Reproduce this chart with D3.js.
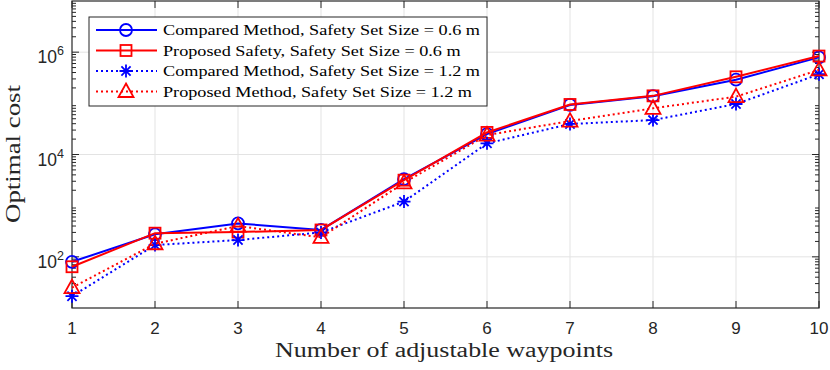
<!DOCTYPE html>
<html>
<head>
<meta charset="utf-8">
<script src="https://cdn.jsdelivr.net/npm/d3@7"></script>
<style>
  body { margin: 0; background: #fff; }
  svg { display: block; }
</style>
</head>
<body>
<div id="chart"></div>
<script>
// chart size
let w = 830;
let h = 370;

// data
let waypoints = [1, 2, 3, 4, 5, 6, 7, 8, 9, 10];
let comparedSmall = [80, 275, 450, 335, 3300, 25000, 93000, 138000, 290000, 790000];
let proposedSmall = [64, 290, 305, 335, 3150, 27000, 95000, 140000, 330000, 840000];
let comparedLarge = [17, 170, 213, 300, 1200, 16500, 39500, 47000, 97000, 370000];
let proposedLarge = [25, 180, 400, 240, 2800, 24000, 45000, 80000, 135000, 450000];
let yTicks = [1e2, 1e4, 1e6];
let seriesNames = [
  "Compared Method, Safety Set Size = 0.6 m",
  "Proposed Safety, Safety Set Size = 0.6 m",
  "Compared Method, Safety Set Size = 1.2 m",
  "Proposed Method, Safety Set Size = 1.2 m"
];

let series = [
  { name: seriesNames[0], values: comparedSmall, color: "#0000ff", dash: null, marker: "circle" },
  { name: seriesNames[1], values: proposedSmall, color: "#ff0000", dash: null, marker: "square" },
  { name: seriesNames[2], values: comparedLarge, color: "#0000ff", dash: "2,3", marker: "star" },
  { name: seriesNames[3], values: proposedLarge, color: "#ff0000", dash: "2,3", marker: "triangle" }
];

// plot box
let m = { left: 72, right: 819, top: 1, bottom: 308 };

let x = d3.scaleLinear().domain([1, 10]).range([m.left, m.right]);
let y = d3.scaleLog().domain([10, 1e7]).range([m.bottom, m.top]);

let svg = d3.select("#chart").append("svg")
  .attr("width", w)
  .attr("height", h);

let axisColor = "#262626";
let gridColor = "#e3e3e3";

// stretch serif text so Liberation Serif takes the width of the LaTeX font
function stretchTo(sel, width) {
  sel.attr("textLength", width).attr("lengthAdjust", "spacingAndGlyphs");
}

// grid lines
let grid = svg.append("g");
grid.selectAll(".gx")
  .data(waypoints.slice(1, -1))
  .enter().append("line")
    .attr("x1", d => x(d)).attr("x2", d => x(d))
    .attr("y1", m.top).attr("y2", m.bottom)
    .attr("stroke", gridColor).attr("stroke-width", 1);
grid.selectAll(".gy")
  .data(yTicks)
  .enter().append("line")
    .attr("x1", m.left).attr("x2", m.right)
    .attr("y1", d => y(d)).attr("y2", d => y(d))
    .attr("stroke", gridColor).attr("stroke-width", 1);

// ticks (inward, on all four sides like MATLAB box on)
let ticks = svg.append("g").attr("stroke", axisColor).attr("stroke-width", 1);
waypoints.forEach(function(d) {
  ticks.append("line").attr("x1", x(d)).attr("x2", x(d)).attr("y1", m.bottom).attr("y2", m.bottom - 7);
  ticks.append("line").attr("x1", x(d)).attr("x2", x(d)).attr("y1", m.top).attr("y2", m.top + 7);
});
let minor = [];
for (let e = 1; e < 7; e++) {
  for (let k = 2; k <= 9; k++) minor.push(k * Math.pow(10, e));
}
minor.forEach(function(d) {
  ticks.append("line").attr("x1", m.left).attr("x2", m.left + 4).attr("y1", y(d)).attr("y2", y(d));
  ticks.append("line").attr("x1", m.right).attr("x2", m.right - 4).attr("y1", y(d)).attr("y2", y(d));
});
yTicks.forEach(function(d) {
  ticks.append("line").attr("x1", m.left).attr("x2", m.left + 7).attr("y1", y(d)).attr("y2", y(d));
  ticks.append("line").attr("x1", m.right).attr("x2", m.right - 7).attr("y1", y(d)).attr("y2", y(d));
});

// box
svg.append("rect")
  .attr("x", m.left).attr("y", m.top)
  .attr("width", m.right - m.left).attr("height", m.bottom - m.top)
  .attr("fill", "none").attr("stroke", axisColor).attr("stroke-width", 1.2);

// tick labels
let tickFont = "'Liberation Sans', Arial, sans-serif";
svg.append("g").selectAll("text")
  .data(waypoints)
  .enter().append("text")
    .attr("x", d => x(d))
    .attr("y", 334)
    .attr("text-anchor", "middle")
    .attr("font-family", tickFont)
    .attr("font-size", 17)
    .attr("fill", axisColor)
    .text(d => d);

let yl = svg.append("g").selectAll("text")
  .data(yTicks)
  .enter().append("text")
    .attr("x", 64)
    .attr("y", d => y(d) + 11)
    .attr("text-anchor", "end")
    .attr("font-family", tickFont)
    .attr("font-size", 17.5)
    .attr("fill", axisColor);
yl.append("tspan").text("10");
yl.append("tspan")
  .attr("dy", -8)
  .attr("font-size", 12.5)
  .text(d => Math.round(Math.log10(d)));

// axis labels
let labelFont = "'Liberation Serif', 'DejaVu Serif', serif";
svg.append("text")
  .attr("x", 444)
  .attr("y", 357)
  .attr("text-anchor", "middle")
  .attr("font-family", labelFont)
  .attr("font-size", 20)
  .attr("fill", axisColor)
  .text("Number of adjustable waypoints")
  .call(stretchTo, 338);

svg.append("text")
  .attr("transform", "translate(20,154) rotate(-90)")
  .attr("text-anchor", "middle")
  .attr("font-family", labelFont)
  .attr("font-size", 21)
  .attr("fill", axisColor)
  .text("Optimal cost")
  .call(stretchTo, 138);

// marker drawing
function drawMarker(g, type, color) {
  if (type == "circle") {
    g.append("circle").attr("r", 6).attr("fill", "none").attr("stroke", color).attr("stroke-width", 1.8);
  } else if (type == "square") {
    g.append("rect").attr("x", -5.5).attr("y", -5.5).attr("width", 11).attr("height", 11)
      .attr("fill", "none").attr("stroke", color).attr("stroke-width", 1.8);
  } else if (type == "triangle") {
    g.append("path").attr("d", "M0,-8 L7.5,5.5 L-7.5,5.5 Z")
      .attr("fill", "none").attr("stroke", color).attr("stroke-width", 1.8);
  } else if (type == "star") {
    g.append("path")
      .attr("d", "M0,-6.5 L0,6.5 M-6.5,0 L6.5,0 M-4.6,-4.6 L4.6,4.6 M-4.6,4.6 L4.6,-4.6")
      .attr("fill", "none").attr("stroke", color).attr("stroke-width", 1.8);
  }
}

// lines and markers
let line = d3.line()
  .x((d, i) => x(waypoints[i]))
  .y(d => y(d));

let plotG = svg.append("g");
series.forEach(function(s) {
  let g = plotG.append("g");
  g.append("path")
    .attr("d", line(s.values))
    .attr("fill", "none")
    .attr("stroke", s.color)
    .attr("stroke-width", 2)
    .attr("stroke-dasharray", s.dash);
  s.values.forEach(function(v, i) {
    let mg = g.append("g").attr("transform", "translate(" + x(waypoints[i]) + "," + y(v) + ")");
    drawMarker(mg, s.marker, s.color);
  });
});

// legend
let legend = svg.append("g");
legend.append("rect")
  .attr("x", 89).attr("y", 17)
  .attr("width", 398).attr("height", 89)
  .attr("fill", "#fff")
  .attr("stroke", axisColor)
  .attr("stroke-width", 1);

let legendTexts = [];
series.forEach(function(s, i) {
  let ry = 30 + i * 20.5;
  let row = legend.append("g");
  row.append("line")
    .attr("x1", 96).attr("x2", 157)
    .attr("y1", ry).attr("y2", ry)
    .attr("stroke", s.color)
    .attr("stroke-width", 2)
    .attr("stroke-dasharray", s.dash);
  let mg = row.append("g").attr("transform", "translate(126," + ry + ")");
  drawMarker(mg, s.marker, s.color);
  let t = row.append("text")
    .attr("x", 163)
    .attr("y", ry + 5)
    .attr("font-family", labelFont)
    .attr("font-size", 15.5)
    .attr("fill", "#000")
    .text(s.name);
  legendTexts.push(t);
});
// widen all legend texts by the same factor (first row should reach x=480)
let baseW = legendTexts[0].node().getComputedTextLength();
let factor = 317 / baseW;
legendTexts.forEach(function(t) {
  t.call(stretchTo, t.node().getComputedTextLength() * factor);
});
</script>
</body>
</html>
